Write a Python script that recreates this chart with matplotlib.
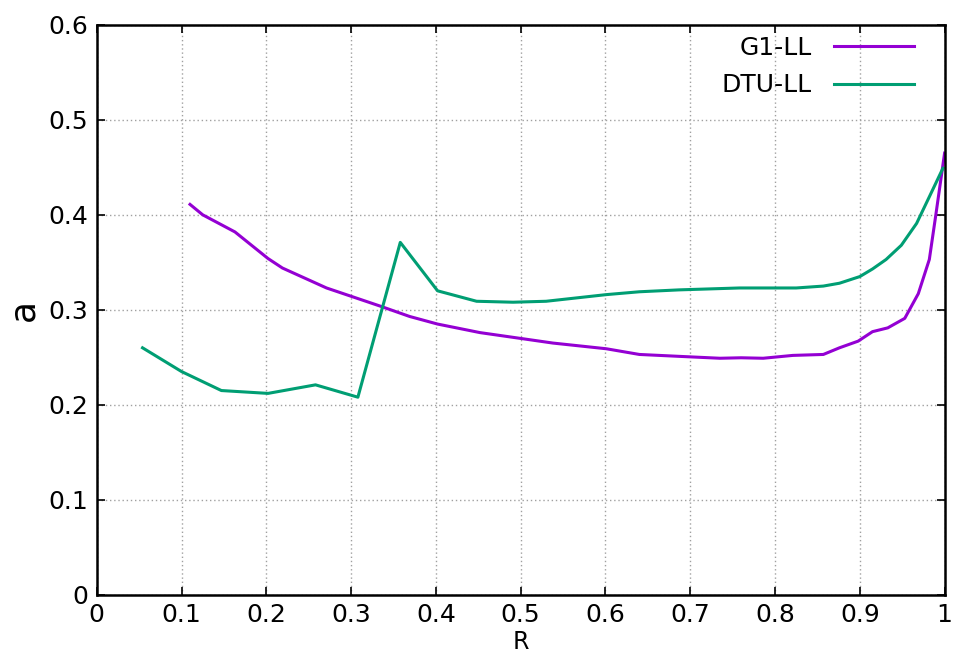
"""Plot a(R) for the G1-LL and DTU-LL models."""

import matplotlib
matplotlib.use('Agg')
import matplotlib.pyplot as plt

R_G1 = [0.110, 0.125, 0.163, 0.202, 0.219, 0.271, 0.334, 0.369, 0.402, 0.452,
        0.499, 0.538, 0.601, 0.640, 0.687, 0.735, 0.760, 0.786, 0.821, 0.857,
        0.876, 0.898, 0.915, 0.933, 0.953, 0.969, 0.982, 0.990, 1.000]
A_G1 = [0.411, 0.400, 0.382, 0.354, 0.344, 0.323, 0.304, 0.293, 0.285, 0.276,
        0.270, 0.265, 0.259, 0.253, 0.251, 0.249, 0.2495, 0.249, 0.252, 0.253,
        0.260, 0.267, 0.277, 0.281, 0.291, 0.317, 0.353, 0.402, 0.465]

R_DTU = [0.054, 0.100, 0.147, 0.202, 0.258, 0.308, 0.358, 0.402, 0.448, 0.491,
         0.530, 0.601, 0.640, 0.687, 0.758, 0.825, 0.857, 0.876, 0.900, 0.915,
         0.931, 0.949, 0.967, 0.982, 0.998]
A_DTU = [0.260, 0.235, 0.215, 0.212, 0.221, 0.208, 0.371, 0.320, 0.309, 0.308,
         0.309, 0.316, 0.319, 0.321, 0.323, 0.323, 0.325, 0.328, 0.335, 0.343,
         0.353, 0.368, 0.391, 0.419, 0.449]

X_TICKS = [0, 0.1, 0.2, 0.3, 0.4, 0.5, 0.6, 0.7, 0.8, 0.9, 1]
X_TICKLABELS = ['0', '0.1', '0.2', '0.3', '0.4', '0.5', '0.6', '0.7', '0.8', '0.9', '1']
Y_TICKS = [0, 0.1, 0.2, 0.3, 0.4, 0.5, 0.6]
Y_TICKLABELS = ['0', '0.1', '0.2', '0.3', '0.4', '0.5', '0.6']

fig = plt.figure(figsize=(9.58, 6.55), dpi=100)
ax = fig.add_axes([0.101, 0.092, 0.885, 0.870])

ax.plot(R_G1, A_G1, color='#9400d3', linewidth=2.2, label='G1-LL')
ax.plot(R_DTU, A_DTU, color='#009e73', linewidth=2.2, label='DTU-LL')

ax.set_xlim(0, 1)
ax.set_ylim(0, 0.6)
ax.set_xticks(X_TICKS)
ax.set_xticklabels(X_TICKLABELS)
ax.set_yticks(Y_TICKS)
ax.set_yticklabels(Y_TICKLABELS)
ax.tick_params(direction='in', length=6, width=1.2, labelsize=18,
               top=True, right=True, pad=6)
ax.grid(True, color='#a0a0a0', linestyle=(0, (1, 2)), linewidth=1.0)

for spine in ax.spines.values():
    spine.set_linewidth(1.8)

ax.set_xlabel('R', fontsize=17, labelpad=2)
ax.set_ylabel('a', fontsize=26, labelpad=6)

ax.legend(loc='upper right', frameon=False, markerfirst=False, fontsize=18,
          handlelength=3.2, handletextpad=0.9, labelspacing=0.55,
          borderaxespad=0.3, bbox_to_anchor=(0.985, 1.012))

fig.savefig('out.png', dpi=100)
